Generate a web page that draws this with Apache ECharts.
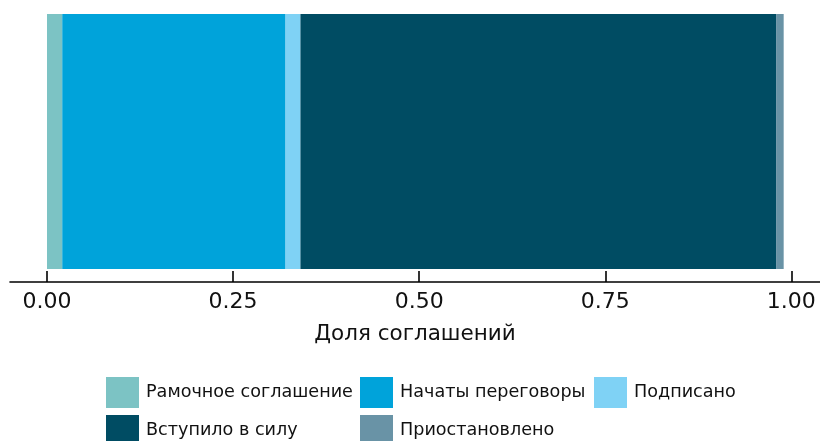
<!DOCTYPE html>
<html><head><meta charset="utf-8">
<script src="https://cdn.jsdelivr.net/npm/echarts@6/dist/echarts.min.js"></script>
<style>html,body{margin:0;padding:0;background:#fff}#c{width:820px;height:441px}</style>
</head><body><div id="c"></div>
<script>
const categories = ['Соглашения'];
const statusNames = ['Рамочное соглашение','Начаты переговоры','Подписано','Вступило в силу','Приостановлено'];
const statusValues = [0.0205, 0.300, 0.020, 0.639, 0.0102];
const statusColors = ['#7cc3c4','#00a3da','#7fd2f5','#004c63','#6993a6'];
const tickValues = [0, 0.25, 0.5, 0.75, 1.0];

const chart = echarts.init(document.getElementById('c'));
const font = 'DejaVu Sans';
const legendPos = [[106,377],[360,377],[594,377],[106,415],[360,415]];
const legends = statusNames.map((n,i)=>({
  data:[n], left:legendPos[i][0], top:legendPos[i][1], padding:0,
  itemWidth:33, itemHeight:31, icon:'rect', selectedMode:false,
  textStyle:{fontFamily:font, fontSize:17.6, color:'#111', padding:[0,0,0,2]}
}));
chart.setOption({
  animation:false,
  legend: legends,
  grid:{left:10, right:0, top:1, height:281, containLabel:false},
  xAxis:{type:'value', min:-0.0497, max:1.0385,
    name:'Доля соглашений', nameLocation:'middle', nameGap:41,
    nameTextStyle:{fontFamily:font, fontSize:21.5, color:'#111'},
    axisLine:{show:true, onZero:false, lineStyle:{color:'#000', width:1.6}},
    axisTick:{show:true, inside:true, length:11, customValues:tickValues, lineStyle:{color:'#000', width:1.6}},
    axisLabel:{customValues:tickValues, fontFamily:font, fontSize:22, color:'#111', margin:9,
      formatter:v=>v.toFixed(2)},
    splitLine:{show:false}},
  yAxis:{type:'category', data:categories, show:false},
  series: statusNames.map((n,i)=>({
    name:n, type:'bar', stack:'s', barWidth:255,
    data:[statusValues[i]], itemStyle:{color:statusColors[i]}
  }))
});
</script></body></html>
